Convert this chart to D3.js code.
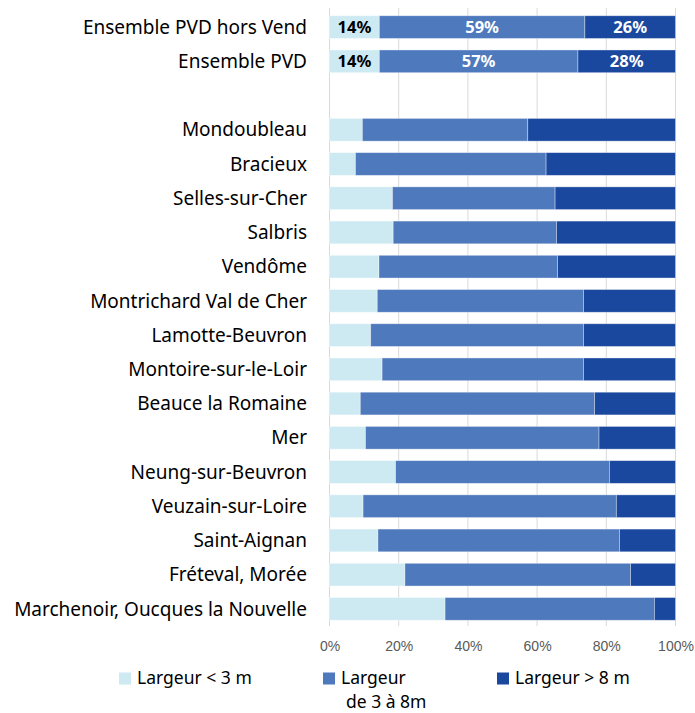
<!DOCTYPE html>
<html>
<head>
<meta charset="utf-8">
<title>Largeur des voies</title>
<script src="https://cdn.jsdelivr.net/npm/d3@7"></script>
<style>
body { margin: 0; padding: 0; background: #fff; font-family: "Noto Sans", sans-serif; }
.cat { font-size: 19px; fill: #000; }
.tick text { font-size: 14px; fill: #595959; }
.lbl { font-size: 16.5px; font-weight: 700; }
.leg { font-size: 17.5px; fill: #000; }
</style>
</head>
<body>
<div id="chart"></div>
<script>

// rows, top to bottom (" " is the empty spacer row)
var categories = ["Ensemble PVD hors Vend", "Ensemble PVD", " ",
  "Mondoubleau", "Bracieux", "Selles-sur-Cher", "Salbris", "Vendôme",
  "Montrichard Val de Cher", "Lamotte-Beuvron", "Montoire-sur-le-Loir",
  "Beauce la Romaine", "Mer", "Neung-sur-Beuvron", "Veuzain-sur-Loire",
  "Saint-Aignan", "Fréteval, Morée", "Marchenoir, Oucques la Nouvelle"];

// shares in %, same order (null for spacer)
var small = [14.4, 14.4, null, 9.5, 7.5, 18.2, 18.4, 14.3, 13.8, 11.9, 15.2, 8.9, 10.4, 19.1, 9.7, 14.0, 21.8, 33.4];
var medium = [59.4, 57.4, null, 47.8, 55.1, 47.0, 47.2, 51.6, 59.6, 61.5, 58.2, 67.7, 67.5, 61.8, 73.2, 69.8, 65.2, 60.5];
var large = [26.2, 28.2, null, 42.7, 37.4, 34.8, 34.4, 34.1, 26.6, 26.6, 26.6, 23.4, 22.1, 19.1, 17.1, 16.2, 13.0, 6.1];
var shownLabels = [true, true, false, false, false, false, false, false, false, false, false, false, false, false, false, false, false, false];

var seriesNames = ["Largeur < 3 m", "Largeur de 3 à 8m", "Largeur > 8 m"];
var colors = ["#cdeaf3", "#4e79bd", "#1a489f"];
var ticks = [0, 20, 40, 60, 80, 100];

var W = 695, H = 713;
var svg = d3.select("#chart").append("svg")
  .attr("width", W).attr("height", H);

var x = d3.scaleLinear().domain([0, 100]).range([329.5, 675.5]);
var y = d3.scaleBand().domain(categories).range([10, 626])
  .paddingInner(0.336).paddingOuter(0.168);

// gridlines
svg.append("g").selectAll("line").data(ticks).enter().append("line")
  .attr("x1", function(d){ return x(d); })
  .attr("x2", function(d){ return x(d); })
  .attr("y1", 8).attr("y2", 626)
  .attr("stroke", "#d9d9d9").attr("stroke-width", 1);

// stack the three series
var rows = categories.map(function(c, i){
  return {cat: c, v: [small[i], medium[i], large[i]], show: shownLabels[i]};
}).filter(function(d){ return d.v[0] != null; });

var segs = [];
rows.forEach(function(r){
  var acc = 0;
  r.v.forEach(function(v, k){
    segs.push({cat: r.cat, k: k, x0: acc, x1: acc + v, v: v, show: r.show});
    acc += v;
  });
});

svg.append("g").selectAll("rect").data(segs).enter().append("rect")
  .attr("x", function(d){ return x(d.x0); })
  .attr("width", function(d){ return x(d.x1) - x(d.x0); })
  .attr("y", function(d){ return y(d.cat); })
  .attr("height", y.bandwidth())
  .attr("fill", function(d){ return colors[d.k]; })
  .attr("stroke", "#ffffff").attr("stroke-opacity", 0.45).attr("stroke-width", 0.8);

// value labels on the two summary rows
svg.append("g").selectAll("text").data(segs.filter(function(d){ return d.show; }))
  .enter().append("text")
  .attr("class", "lbl")
  .attr("x", function(d){ return (x(d.x0) + x(d.x1)) / 2; })
  .attr("y", function(d){ return y(d.cat) + y.bandwidth() / 2; })
  .attr("dy", "0.36em")
  .attr("text-anchor", "middle")
  .attr("fill", function(d){ return d.k == 0 ? "#000" : "#fff"; })
  .text(function(d){ return Math.round(d.v) + "%"; });

// category labels
svg.append("g").selectAll("text").data(categories).enter().append("text")
  .attr("class", "cat")
  .attr("x", 307)
  .attr("y", function(d){ return y(d) + y.bandwidth() / 2; })
  .attr("dy", "0.35em")
  .attr("text-anchor", "end")
  .text(function(d){ return d; });

// x axis labels
var ax = svg.append("g").attr("transform", "translate(0,641)")
  .call(d3.axisBottom(x).tickValues(ticks).tickSize(0).tickPadding(0)
    .tickFormat(function(d){ return d + "%"; }));
ax.select(".domain").remove();
ax.selectAll("text").attr("dy", "0.71em");

// legend
var legend = [
  {sx: 119, tx: 137, lines: ["Largeur < 3 m"]},
  {sx: 323, tx: 341, lines: ["Largeur", "de 3 à 8m"]},
  {sx: 497, tx: 515, lines: ["Largeur > 8 m"]}
];
var lg = svg.append("g").selectAll("g").data(legend).enter().append("g");
lg.append("rect")
  .attr("x", function(d){ return d.sx; }).attr("y", 672.5)
  .attr("width", 12).attr("height", 12)
  .attr("fill", function(d, i){ return colors[i]; });
lg.each(function(d){
  var t = d3.select(this).append("text").attr("class", "leg")
    .attr("x", d.tx).attr("y", 683.5);
  d.lines.forEach(function(l, j){
    t.append("tspan").attr("x", d.tx + (j ? 5 : 0)).attr("y", 683.5 + j * 24).text(l);
  });
});

</script>
</body>
</html>
